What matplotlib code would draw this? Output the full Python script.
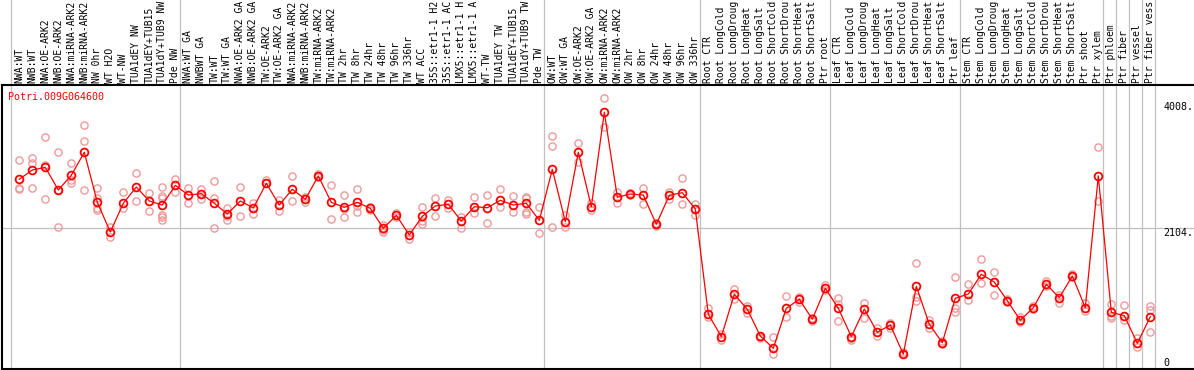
import numpy as np
import matplotlib
matplotlib.use("Agg")
import matplotlib.pyplot as plt

# sample names, one per column
labels = [
    "NWA:WT", "NWB:WT", "NWA:OE-ARK2", "NWB:OE-ARK2", "NWA:miRNA-ARK2", "NWB:miRNA-ARK2",
    "NW 0hr", "WT H2O", "WT-NW", "TUA1dEY NW", "TUA1dEY+TUB15 NW", "TUA1dY+TUB9 NW", "Pde NW",
    "NWA:WT GA", "NWBWT GA", "TW:WT", "TW:WT GA", "NWA:OE-ARK2 GA", "NWB:OE-ARK2 GA",
    "TW:OE-ARK2", "TW:OE-ARK2 GA", "NWA:miRNA-ARK2 GA", "NWB:miRNA-ARK2 GA", "TW:miRNA-ARK2",
    "TW:miRNA-ARK2 GA", "TW 2hr", "TW 8hr", "TW 24hr", "TW 48hr", "TW 96hr", "TW 336hr",
    "WT ACC", "35S::etr1-1 H2O", "35S::etr1-1 ACC", "LMX5::etr1-1 H2O", "LMX5::etr1-1 ACC",
    "WT-TW", "TUA1dEY TW", "TUA1dEY+TUB15 TW", "TUA1dY+TUB9 TW", "Pde TW",
    "OW:WT", "OW:WT GA", "OW:OE-ARK2", "OW:OE-ARK2 GA", "OW:miRNA-ARK2", "OW:miRNA-ARK2",
    "OW 2hr", "OW 8hr", "OW 24hr", "OW 48hr", "OW 96hr", "OW 336hr",
    "Root CTR", "Root LongCold", "Root LongDrought", "Root LongHeat", "Root LongSalt",
    "Root ShortCold", "Root ShortDrought", "Root ShortHeat", "Root ShortSalt", "Ptr root",
    "Leaf CTR", "Leaf LongCold", "Leaf LongDrought", "Leaf LongHeat", "Leaf LongSalt",
    "Leaf ShortCold", "Leaf ShortDrought", "Leaf ShortHeat", "Leaf ShortSalt", "Ptr leaf",
    "Stem CTR", "Stem LongCold", "Stem LongDrought", "Stem LongHeat", "Stem LongSalt",
    "Stem ShortCold", "Stem ShortDrought", "Stem ShortHeat", "Stem ShortSalt", "Ptr shoot",
    "Ptr xylem", "Ptr phloem", "Ptr fiber", "Ptr vessel", "Ptr fiber vessel",
]

# mean expression per sample
mean_vals = [
    2845, 2985, 3026, 2683, 2905, 3253, 2497, 2048, 2482, 2728, 2517, 2456, 2754,
    2607, 2627, 2482, 2320, 2517, 2411, 2784, 2456, 2694, 2542, 2895, 2497, 2421,
    2497, 2406, 2104, 2300, 2003, 2285, 2441, 2467, 2214, 2430, 2415, 2527, 2456,
    2482, 2225,
    2996, 2204, 3253, 2430, 3857, 2573, 2622, 2607, 2164, 2603, 2642, 2396,
    804, 466, 1106, 880, 476, 290, 895, 1031, 729, 1197,
    895, 466, 884, 532, 642, 200, 1227, 653, 375, 1046,
    1111, 1409, 1292, 1010, 713, 904, 1258, 1055, 1383, 904,
    2895, 834, 783, 366, 768,
]

# individual replicates per sample
rep_vals = [
    [3136, 2709, 2694], [3162, 3096, 2709], [3479, 3061, 2547], [3253, 2119, 2683],
    [3091, 2834, 2793], [3661, 3424, 2683], [2713, 2557, 2406, 2381], [2128, 1977],
    [2657, 2406], [2940, 2517], [2638, 2366], [2728, 2592, 2557, 2305, 2270, 2229],
    [2849, 2653],
    [2713, 2482], [2694, 2551], [2814, 2557, 2104], [2415, 2290, 2229], [2724, 2290],
    [2482, 2325], [2830, 2789], [2532, 2370], [2895, 2517], [2582, 2506], [2920, 2884],
    [2758, 2240], [2607, 2391, 2270], [2694, 2441, 2346], [2430, 2381],
    [2154, 2078, 2053], [2331, 2279], [2053, 1938], [2421, 2214, 2164], [2557, 2290],
    [2532, 2406], [2270, 2104], [2573, 2340], [2603, 2180], [2694, 2430], [2588, 2355],
    [2582, 2557, 2355, 2320], [2421, 2028],
    [3499, 3353, 2119], [2305, 2119], [3389, 3111], [2482, 2381], [4069, 3640],
    [2648, 2491], [2642, 2607], [2709, 2467], [2180, 2139], [2657, 2542], [2860, 2467],
    [2471, 2305],
    [895, 768], [506, 416], [1182, 1031], [930, 819], [466, 446], [456, 204],
    [1085, 768], [1070, 995], [744, 707], [1247, 1171],
    [1046, 955, 703], [441, 416], [970, 744], [592, 476], [668, 602], [234, 200],
    [1575, 1070, 1010], [718, 602], [405, 351], [1372, 904, 843],
    [1258, 1020], [1635, 1273], [1443, 1091], [1040, 995], [759, 692], [930, 884],
    [1307, 1232], [1096, 970], [1413, 1363], [970, 854],
    [3328, 2521], [955, 783, 744], [945, 718], [441, 305], [930, 869, 541],
]

# index of first sample in each block (last entry closes the final block)
group_starts = [0, 13, 41, 53, 63, 73, 84, 85, 86, 87, 88]

y_marks = [4008, 2104, 0]
gene_name = "Potri.009G064600"
max_chars = 14  # the label strip only has room for this many characters

W, H = 1194, 370
fig = plt.figure(figsize=(W / 100, H / 100), dpi=100)
mono = "DejaVu Sans Mono"

ax_left = 1.7 / W
ax_w = 1192.3 / W
ax = fig.add_axes([ax_left, 0.7 / H, ax_w, 284.3 / H])
lab = fig.add_axes([ax_left, (H - 84) / H, ax_w, 84 / H])

xlim = (-1.354, 90.36)
x = np.arange(len(labels))

# block separators
for a in (ax, lab):
    for g in group_starts:
        a.axvline(g - 0.64, color="#c0c0c0", lw=0.9, zorder=0)
    a.set_xlim(*xlim)

ax.axhline(y_marks[1], color="#c0c0c0", lw=0.9, zorder=0)

# replicates
rx = np.concatenate([[i] * len(r) for i, r in enumerate(rep_vals)])
ry = np.concatenate(rep_vals)
ax.plot(rx, ry, linestyle="none", marker="o", ms=5.2, mfc="none",
        mec="#ee9a9a", mew=1.0, zorder=2)

# mean line
ax.plot(x, mean_vals, color="#ff0000", lw=0.9, marker="o", ms=5.6, mfc="none",
        mec="#ff0000", mew=1.3, zorder=3)

ax.set_ylim(-27.2, 4270)
ax.set_xticks([])
ax.set_yticks([])
for s in ("left", "bottom", "top"):
    ax.spines[s].set_linewidth(1.5)
    ax.spines[s].set_color("black")
ax.spines["right"].set_visible(False)

# value marks on the right
for v in y_marks:
    txt = f"{v}." if v else "0"
    ax.text(88.0, v, txt, ha="left", va="top" if v else "bottom",
            fontsize=7.2, family=mono, color="black")

ax.text(6.5 / 1192.3, 0.958, gene_name, transform=ax.transAxes, ha="left",
        va="center", fontsize=7.2, family=mono, color="#ff0000")

# rotated sample labels, cut to what fits in the strip
lab.set_ylim(0, 1)
lab.axis("off")
for i, name in enumerate(labels):
    lab.text(i, 0.01, name[:max_chars].rstrip(), rotation=90, ha="center",
             va="bottom", fontsize=7.0, family=mono, color="black")

fig.savefig("out.png", dpi=100)
